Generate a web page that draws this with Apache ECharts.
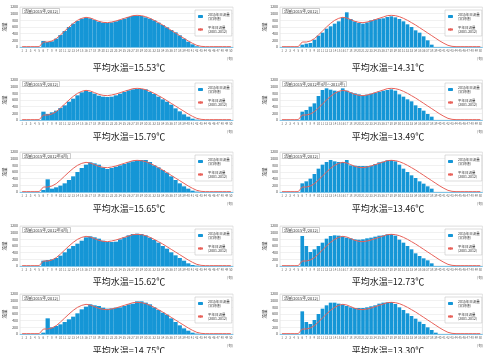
<!DOCTYPE html>
<html>
<head>
<meta charset="utf-8">
<script src="https://cdn.jsdelivr.net/npm/echarts@6/dist/echarts.min.js"></script>
<style>
html, body { margin: 0; padding: 0; background: #fff; }
#chart { width: 485px; height: 353px; }
</style>
</head>
<body>
<div id="chart"></div>
<script>
// 横軸（旬）
const categories = ['1','2','3','4','5','6','7','8','9','10','11','12','13','14','15','16','17','18','19','20',
  '21','22','23','24','25','26','27','28','29','30','31','32','33','34','35','36','37','38','39','40',
  '41','42','43','44','45','46','47','48','49','50'];

// 平年の流量（赤線、全パネル共通）
const avgFlow = [10,10,10,10,10,150,150,180,250,360,480,600,710,800,860,890,870,820,770,740,730,750,780,820,860,900,940,950,940,910,860,800,730,660,580,500,420,340,260,180,110,50,20,10,10,10,10,10,10,10];

// 左列
const flowL1 = [0,0,0,0,0,180,150,170,250,360,480,600,700,780,850,880,860,810,760,730,720,740,770,810,850,900,930,940,930,890,850,800,730,660,590,510,440,350,250,160,80,20,0,0,0,0,0,0,0,0];
const flowL2 = [0,0,0,0,0,250,180,230,280,360,440,550,640,740,830,880,840,790,730,700,690,700,740,790,840,890,920,930,930,920,840,780,700,620,550,460,350,260,170,100,40,10,0,0,0,0,0,0,0,0];
const flowL3 = [0,0,0,0,0,60,380,100,140,190,260,360,470,600,720,820,890,860,820,740,690,720,760,800,840,890,920,950,960,960,900,800,740,660,580,470,360,260,170,100,40,10,0,0,0,0,0,0,0,0];
const flowL4 = [0,0,0,0,0,160,180,200,240,310,410,520,600,670,760,860,890,860,820,760,720,720,730,800,860,920,960,970,960,920,850,780,700,600,520,410,320,240,160,80,30,10,0,0,0,0,0,0,0,0];
const flowL5 = [0,0,0,0,0,40,470,200,240,290,360,440,520,620,740,820,890,860,840,790,760,770,790,800,840,890,910,980,980,940,890,800,720,640,580,470,360,260,170,100,40,10,0,0,0,0,0,0,0,0];
// 右列
const flowR1 = [0,0,0,0,0,70,100,120,220,340,430,550,620,700,770,890,1040,840,770,720,700,740,800,830,850,860,900,920,890,840,770,680,600,500,430,320,200,70,0,0,0,0,0,0,0,0,0,0,0,0];
const flowR2 = [0,0,0,0,0,250,300,400,500,720,900,950,910,880,860,950,880,830,800,770,740,760,790,820,850,880,900,920,880,770,700,620,560,440,360,280,180,100,0,0,0,0,0,0,0,0,0,0,0,0];
const flowR3 = [0,0,0,0,0,260,320,400,540,700,820,900,960,920,900,900,960,800,790,780,780,780,790,840,890,910,950,960,920,820,700,600,500,420,320,250,170,100,0,0,0,0,0,0,0,0,0,0,0,0];
const flowR4 = [0,0,0,0,0,900,600,420,500,600,700,820,900,920,910,890,850,830,800,790,800,830,850,880,910,920,950,960,910,790,700,600,500,380,300,230,170,80,0,0,0,0,0,0,0,0,0,0,0,0];
const flowR5 = [0,0,0,0,0,680,360,300,420,600,760,860,940,940,910,890,840,800,780,780,780,800,830,860,910,940,950,960,900,800,720,620,540,460,370,300,200,120,40,0,0,0,0,0,0,0,0,0,0,0];

const tempMeans = ['15.53','15.79','15.65','15.62','14.75','14.31','13.49','13.46','12.73','13.30'];
const panelTitles = ['流量(2015年/2012)','流量(2015年/2012)','流量(2015年/2012年4月)','流量(2015年/2012年4月)','流量(2015年/2012)',
  '流量(2015年/2012)','流量(2015年/2012年4月～2013年)','流量(2015年/2012)','流量(2015年/2012)','流量(2015年/2012)'];

const yMin = 0, yMax = 1200, yStep = 200;
const barName = '2015年日流量\n(実測値)';
const lineName = '平年日流量\n(2001-2012)';

const allFlows = [flowL1, flowL2, flowL3, flowL4, flowL5, flowR1, flowR2, flowR3, flowR4, flowR5];

const rowTop = [7, 80, 152, 226, 294];
const captionTop = [63, 132, 204, 277, 346];

const grid = [], xAxis = [], yAxis = [], series = [], title = [], legend = [];

allFlows.forEach((flow, k) => {
  const col = k < 5 ? 0 : 1;
  const row = k % 5;
  const gLeft = col ? 280 : 20;
  const gWidth = col ? 203 : 213;
  const top = rowTop[row];

  grid.push({ left: gLeft, top: top, width: gWidth, height: 40, show: true, borderColor: '#c8c8c8', borderWidth: 0.5 });

  xAxis.push({
    type: 'category', gridIndex: k, data: categories,
    axisLabel: { fontSize: 3, interval: 0, color: '#666', margin: 2 },
    axisTick: { length: 1.5, lineStyle: { color: '#999', width: 0.5 } },
    axisLine: { lineStyle: { color: '#7fc4e6', width: 1 } }
  });

  yAxis.push({
    type: 'value', gridIndex: k, min: yMin, max: yMax, interval: yStep,
    axisLabel: { fontSize: 3.5, color: '#444', margin: 2, formatter: (v) => String(v) },
    splitLine: { lineStyle: { color: '#e2e2e2', width: 0.5 } },
    axisLine: { show: false }, axisTick: { show: false },
    name: '流量', nameLocation: 'middle', nameGap: 12, nameRotate: 90,
    nameTextStyle: { fontSize: 4.5, color: '#333' }
  });

  series.push({
    type: 'bar', name: barName, xAxisIndex: k, yAxisIndex: k, data: flow,
    barCategoryGap: col ? '10%' : '0%',
    itemStyle: { color: '#1596d6' }, silent: true
  });
  series.push({
    type: 'line', name: lineName, xAxisIndex: k, yAxisIndex: k, data: avgFlow,
    symbol: 'none', lineStyle: { color: '#e8625a', width: 1 }, itemStyle: { color: '#e8625a' },
    z: 3, silent: true
  });

  // パネル左上の見出し
  title.push({
    text: panelTitles[k], left: gLeft + 2, top: top + 1,
    padding: [1, 2], borderColor: '#999', borderWidth: 0.5, backgroundColor: '#fff',
    textStyle: { fontSize: 4, fontWeight: 'normal', color: '#333' }
  });
  // 平均水温
  title.push({
    text: '平均水温=' + tempMeans[k] + '℃', left: col ? 388 : 129, textAlign: 'center', top: captionTop[row],
    padding: 0,
    textStyle: { fontSize: 9, fontWeight: 'normal', color: '#222' }
  });
  title.push({
    text: '(旬)', left: gLeft + gWidth - 6, top: top + 50, padding: 0,
    textStyle: { fontSize: 3.5, fontWeight: 'normal', color: '#555' }
  });

  legend.push({
    data: [barName, lineName], orient: 'vertical',
    left: gLeft + gWidth - 38, top: top + 3,
    padding: 2, itemGap: 4, itemWidth: 5, itemHeight: 3,
    borderColor: '#bbb', borderWidth: 0.5, backgroundColor: '#fff',
    textStyle: { fontSize: 3.5, lineHeight: 4.5, color: '#333' }
  });
});

const chart = echarts.init(document.getElementById('chart'));
chart.setOption({
  animation: false,
  textStyle: { fontFamily: 'Noto Sans CJK JP' },
  grid, xAxis, yAxis, series, title, legend
});
</script>
</body>
</html>
